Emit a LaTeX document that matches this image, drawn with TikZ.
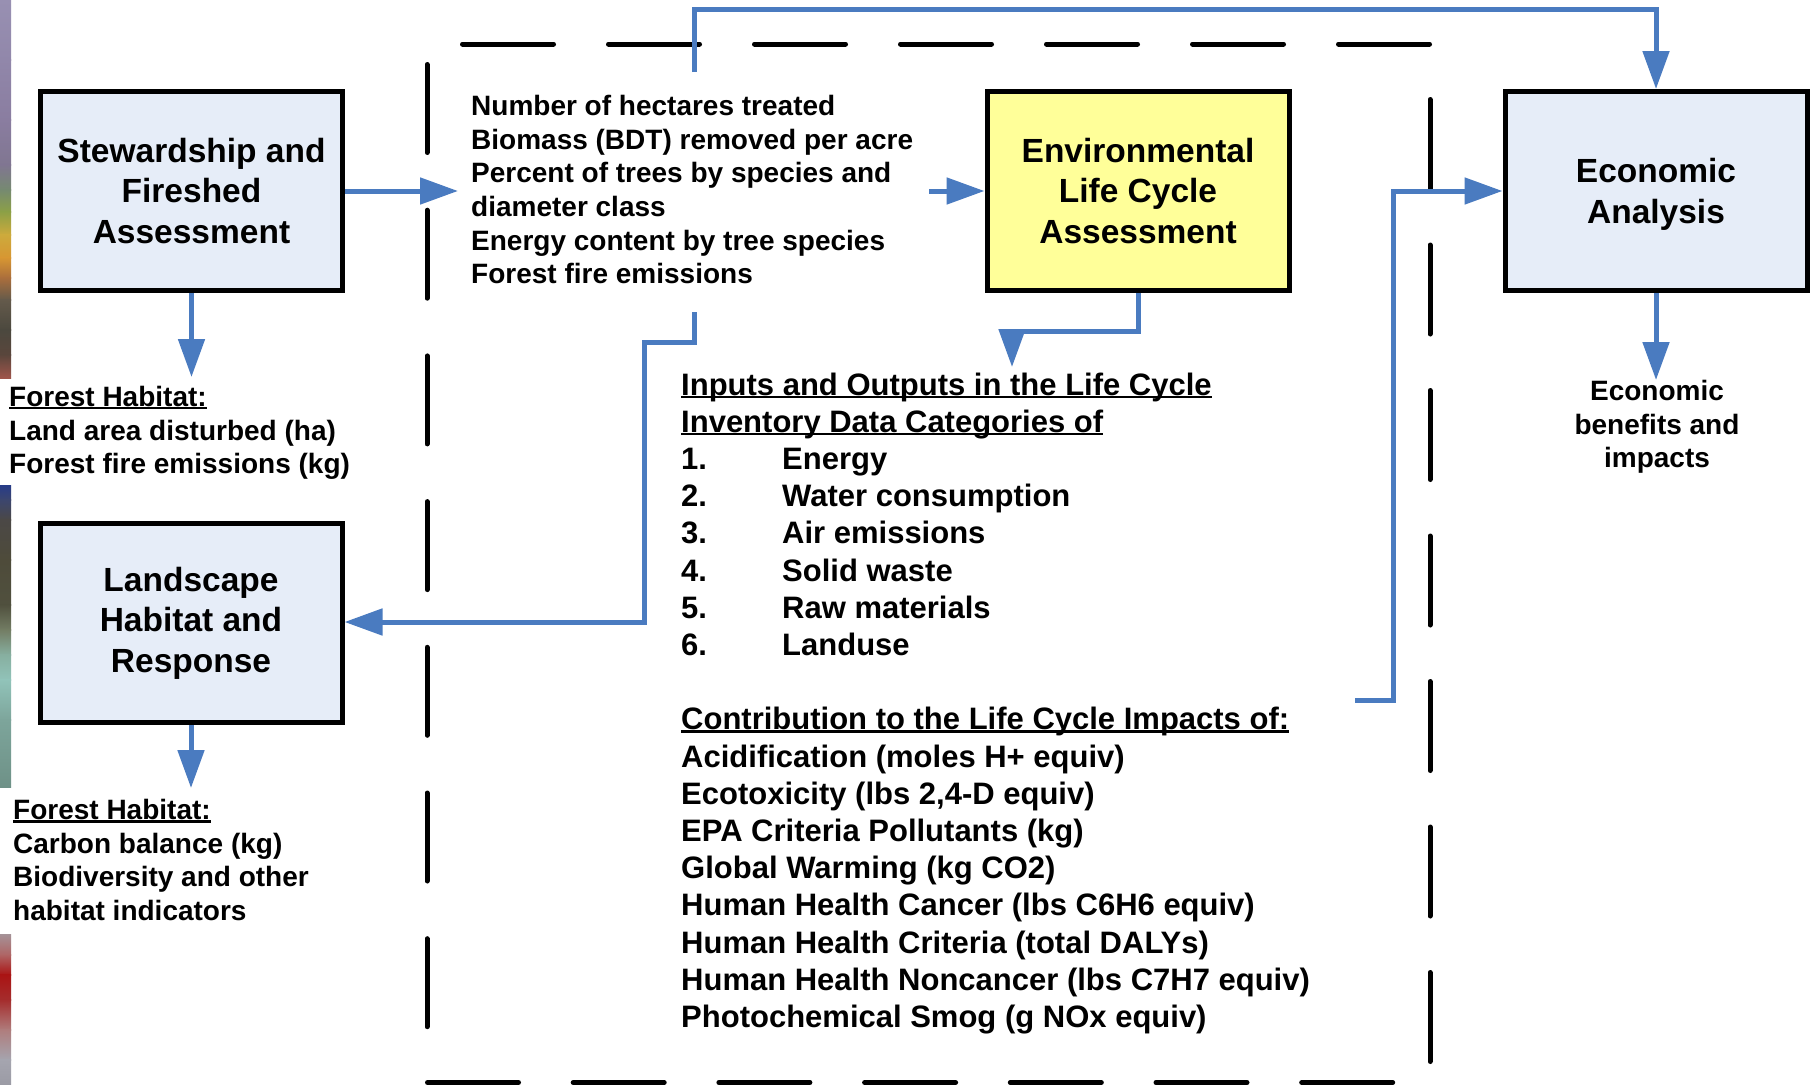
\documentclass[tikz,border=0pt]{standalone}
\usepackage{fontspec}
\setmainfont{Liberation Sans}
\usetikzlibrary{arrows.meta}
\definecolor{flowblue}{RGB}{74,123,192}
\definecolor{boxblue}{RGB}{230,237,248}
\definecolor{boxyellow}{RGB}{255,255,153}
\newcommand{\ulx}[1]{\setbox0=\hbox{#1}\rlap{\rule[-3pt]{\wd0}{2.5pt}}\box0}
\newcommand{\numitem}[1]{\makebox[101pt][l]{#1}}
\begin{document}
\begin{tikzpicture}[x=1pt,y=-1pt,
  procbox/.style={draw=black, line width=5pt, minimum width=302pt, minimum height=199pt,
    align=center, inner sep=0pt, font=\bfseries\fontsize{33.5}{40.5}\selectfont},
  flowline/.style={draw=flowblue, line width=5pt},
  flow/.style={flowline, -{Triangle[length=38pt,width=26pt]}},
  framedash/.style={line width=5pt, line cap=round},
  smalltext/.style={align=left, inner sep=0pt, font=\bfseries\fontsize{28}{33.7}\selectfont},
  bigtext/.style={align=left, inner sep=0pt, font=\bfseries\fontsize{31}{37.2}\selectfont}]
\useasboundingbox (0,0) rectangle (1814,1084);
\fill[white] (0,0) rectangle (1814,1084);
% colour strip at the left edge
\foreach \ya/\ra/\ga/\ba/\yb/\rb/\gb/\bb in {
  0/152/144/178/60/145/135/170, 60/145/135/170/120/138/125/160,
  120/138/125/160/165/128/118/145, 165/128/118/145/190/118/138/112,
  190/118/138/112/212/140/160/70, 212/140/160/70/235/205/170/60,
  235/205/170/60/258/215/150/50, 258/215/150/50/278/170/110/60,
  278/170/110/60/300/100/90/75, 300/100/90/75/330/75/72/62,
  330/75/72/62/355/90/70/60, 355/90/70/60/378/160/85/75,
  486/40/60/135/500/60/70/110, 500/60/70/110/520/75/72/70,
  520/75/72/70/560/78/75/58, 560/78/75/58/605/80/80/62,
  605/80/80/62/630/115/125/100, 630/115/125/100/655/135/175/160,
  655/135/175/160/680/145/195/185, 680/145/195/185/720/125/165/155,
  720/125/165/155/787/110/145/135,
  935/165/145/150/955/175/100/100, 955/175/100/100/975/170/20/20,
  975/170/20/20/1000/165/45/45, 1000/165/45/45/1030/175/125/125,
  1030/175/125/125/1060/165/165/175, 1060/165/165/175/1084/155/155/165}{
  \definecolor{ca}{RGB}{\ra,\ga,\ba}\definecolor{cb}{RGB}{\rb,\gb,\bb}
  \shade[top color=ca, bottom color=cb] (0,\ya-0.3) rectangle (11,\yb+0.3);
}
% dashed frame
\foreach \k in {0,...,6}{
  \draw[framedash] ({462.5+146*\k},44) -- ({460+146*\k+93.5},44);
  \draw[framedash] ({427.5+145.7*\k},1082.5) -- ({425+145.7*\k+93.5},1082.5);
  \draw[framedash] (427,{64.5+145.7*\k}) -- (427,{62+145.7*\k+90.5});
  \draw[framedash] (1430,{99.5+145.5*\k}) -- (1430,{97+145.5*\k+91.5});
}
% boxes
\node[procbox, fill=boxblue] (stew) at (191.5,191) {Stewardship and\\Fireshed\\Assessment};
\node[procbox, fill=boxblue] (land) at (191,623) {Landscape\\Habitat and\\Response};
\node[procbox, fill=boxyellow] (elca) at (1138,191) {Environmental\\Life Cycle\\Assessment};
\node[procbox, fill=boxblue, text depth=0pt] (econ) at (1656,191) {Economic\\Analysis};
% texts
\node[smalltext, anchor=north west] (inputs) at (471,95)
  {Number of hectares treated\\Biomass (BDT) removed per acre\\Percent of trees by species and\\diameter class\\Energy content by tree species\\Forest fire emissions};
\node[smalltext, anchor=north west] (fh1) at (9,386)
  {\ulx{Forest Habitat:}\\Land area disturbed (ha)\\Forest fire emissions (kg)};
\node[smalltext, anchor=north west] (fh2) at (13,799)
  {\ulx{Forest Habitat:}\\Carbon balance (kg)\\Biodiversity and other\\habitat indicators};
\node[smalltext, align=center, anchor=north] (ecotext) at (1657,380)
  {Economic\\benefits and\\impacts};
\node[bigtext, anchor=north west] (lci) at (681,372.5)
  {\ulx{Inputs and Outputs in the Life Cycle}\\\ulx{Inventory Data Categories of}\\
   \numitem{1.}Energy\\\numitem{2.}Water consumption\\\numitem{3.}Air emissions\\
   \numitem{4.}Solid waste\\\numitem{5.}Raw materials\\\numitem{6.}Landuse\\[37.2pt]
   \ulx{Contribution to the Life Cycle Impacts of:}\\
   Acidification (moles H+ equiv)\\Ecotoxicity (lbs 2,4-D equiv)\\EPA Criteria Pollutants (kg)\\
   Global Warming (kg CO2)\\Human Health Cancer (lbs C6H6 equiv)\\Human Health Criteria (total DALYs)\\
   Human Health Noncancer (lbs C7H7 equiv)\\Photochemical Smog (g NOx equiv)};
% connector coordinates
\coordinate (inL) at (458,191);
\coordinate (topA) at (694,72);
\coordinate (botA) at (694,312);
\coordinate (eStart) at (929,191);
\coordinate (lciTip) at (1012,367);
\coordinate (rStart) at (1355,700);
\coordinate (stewTip) at (191.5,377);
\coordinate (landTip) at (191,788);
\coordinate (econTip) at (1656,380);
% connectors
\draw[flow] (stew.east) -- (inL);
\draw[flow] (eStart) -- (elca.west);
\draw[flow] (topA) -- (694,9) -- (1656,9) -- (econ.north);
\draw[flow] (botA) -- (694,342.5) -- (644,342.5) -- (644,622) -- (land.east |- 0,622);
\draw[flow] (elca.south) -- (1138,331) -- (1012,331) -- (lciTip);
\draw[flow] (rStart) -- (1393,700) -- (1393,191) -- (econ.west);
\draw[flow] (econ.south) -- (econTip);
\draw[flow] (stew.south) -- (stewTip);
\draw[flow] (land.south) -- (landTip);
\end{tikzpicture}
\end{document}
